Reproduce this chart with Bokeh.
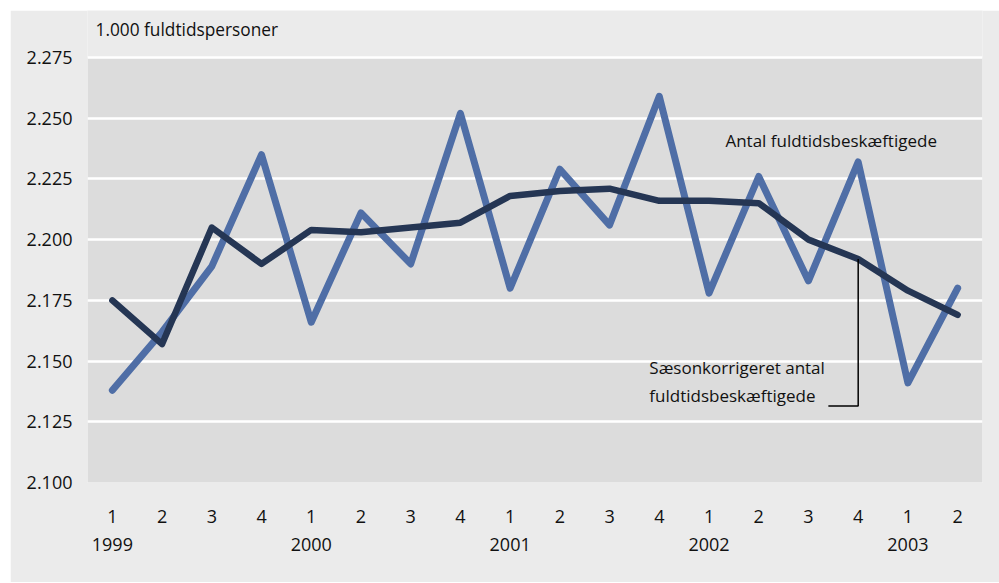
from bokeh.plotting import figure
from bokeh.models import Range1d, FixedTicker, LinearAxis, Label, Spacer, BoxAnnotation
from bokeh.layouts import column, row
from bokeh.embed import file_html
from bokeh.resources import INLINE

quarters = ["1", "2", "3", "4"] * 4 + ["1", "2"]
years = ["1999", "2000", "2001", "2002", "2003"]
year_pos = [0, 4, 8, 12, 16]

antal = [2.138, 2.162, 2.189, 2.235, 2.166, 2.211, 2.190, 2.252, 2.180,
         2.229, 2.206, 2.259, 2.178, 2.226, 2.183, 2.232, 2.141, 2.180]
saeson = [2.175, 2.157, 2.205, 2.190, 2.204, 2.203, 2.205, 2.207, 2.218,
          2.220, 2.221, 2.216, 2.216, 2.215, 2.200, 2.192, 2.179, 2.169]

y_ticks = [2.100, 2.125, 2.150, 2.175, 2.200, 2.225, 2.250, 2.275]
y_labels = ["2.100", "2.125", "2.150", "2.175", "2.200", "2.225", "2.250", "2.275"]

FONT = "Open Sans"
x = list(range(len(quarters)))

y_lo, y_hi = y_ticks[0], y_ticks[-1]
# frame extends 47px above the top gridline to hold the unit label
extra = (y_hi - y_lo) * 47 / 425

p = figure(width=989, height=572, output_backend="svg", toolbar_location=None,
           x_range=Range1d(-0.5, 17.5), y_range=Range1d(y_lo, y_hi + extra),
           min_border_left=77, min_border_right=17, min_border_top=0,
           min_border_bottom=100)
p.border_fill_color = "#ebebeb"
p.background_fill_color = "#ebebeb"
p.outline_line_color = None

# grey plotting area between the lowest and highest gridline
p.add_layout(BoxAnnotation(bottom=y_lo, top=y_hi, fill_color="#dcdcdc",
                           fill_alpha=1, line_color=None, level="image"))

# unit label above the plotting area
p.add_layout(Label(x=-0.5, y=y_hi, x_offset=8, y_offset=28,
                   text="1.000 fuldtidspersoner", text_font=FONT,
                   text_font_size="17.3px", text_baseline="middle",
                   text_color="#111111"))

# y axis
ya = p.yaxis[0]
ya.ticker = FixedTicker(ticks=y_ticks)
ya.major_label_overrides = dict(zip(y_ticks, y_labels))
ya.axis_line_color = None
ya.major_tick_line_color = None
ya.minor_tick_line_color = None
ya.major_label_standoff = 9
ya.major_label_text_font = FONT
ya.major_label_text_font_size = "18px"
ya.major_label_text_color = "#111111"

p.ygrid.ticker = FixedTicker(ticks=y_ticks)
p.ygrid.grid_line_color = "white"
p.ygrid.grid_line_width = 2.5
p.xgrid.visible = False

# quarter axis
xa = p.xaxis[0]
xa.ticker = FixedTicker(ticks=x)
xa.major_label_overrides = {i: q for i, q in zip(x, quarters)}
xa.axis_line_color = None
xa.major_tick_line_color = None
xa.minor_tick_line_color = None
xa.major_label_standoff = 21
xa.major_label_text_font = FONT
xa.major_label_text_font_size = "18px"
xa.major_label_text_color = "#111111"

# year axis
ya2 = LinearAxis(ticker=FixedTicker(ticks=year_pos),
                 major_label_overrides={i: y for i, y in zip(year_pos, years)})
ya2.axis_line_color = None
ya2.major_tick_line_color = None
ya2.minor_tick_line_color = None
ya2.major_label_standoff = 6
ya2.major_label_text_font = FONT
ya2.major_label_text_font_size = "18px"
ya2.major_label_text_color = "#111111"
p.add_layout(ya2, "below")

p.line(x, antal, line_color="#4f6ea6", line_width=7, line_join="round", line_cap="round")
p.line(x, saeson, line_color="#253654", line_width=6.5, line_join="round", line_cap="round")

# leader line for seasonally adjusted series
lx = x[15]
p.line([lx, lx, lx - 0.6], [saeson[15], 2.1315, 2.1315], line_color="black", line_width=1.5)

p.add_layout(Label(x=12.33, y=2.2408, text="Antal fuldtidsbeskæftigede",
                   text_font=FONT, text_font_size="17px", text_baseline="middle",
                   text_color="#111111"))
p.add_layout(Label(x=10.8, y=2.1474, text="Sæsonkorrigeret antal",
                   text_font=FONT, text_font_size="17px", text_baseline="middle",
                   text_color="#111111"))
p.add_layout(Label(x=10.8, y=2.1358, text="fuldtidsbeskæftigede",
                   text_font=FONT, text_font_size="17px", text_baseline="middle",
                   text_color="#111111"))

layout = column(Spacer(height=10), row(Spacer(width=10), p))
open("out.html", "w").write(file_html(layout, INLINE))
